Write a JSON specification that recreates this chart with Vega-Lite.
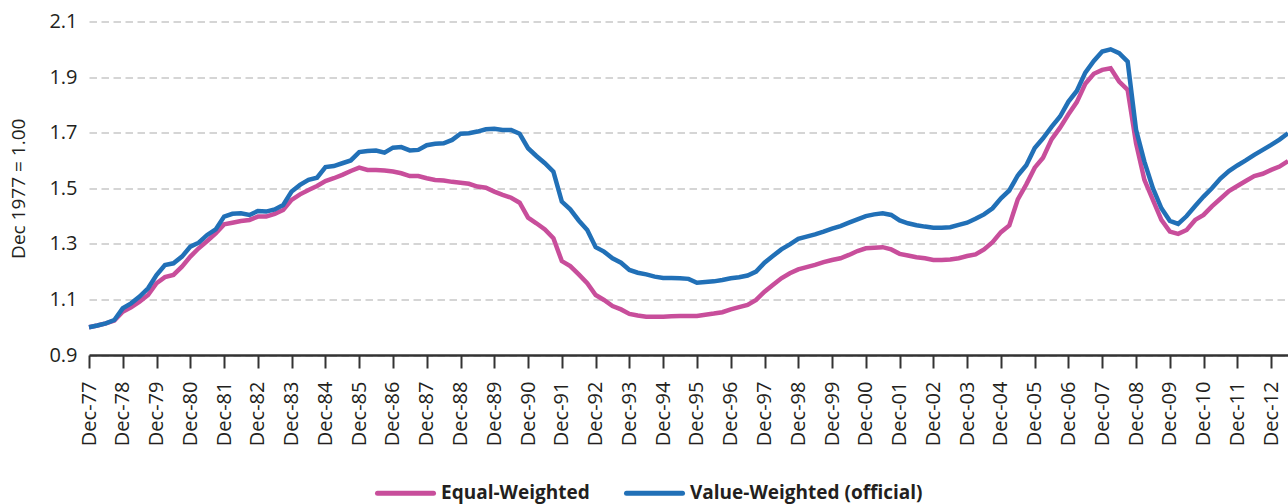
{
  "$schema": "https://vega.github.io/schema/vega-lite/v6.json",
  "width": 1199,
  "height": 333.5,
  "autosize": {"type": "none"},
  "padding": {"left": 89, "top": 21.5, "right": 0, "bottom": 149},
  "background": "white",
  "config": {"view": {"stroke": null}, "font": "Open Sans"},
  "data": {
    "format": {"parse": {"d": "date:'%Y-%m'"}},
    "values": [
      {"d": "1977-12", "EW": 1.000, "VW": 1.000},
      {"d": "1978-03", "EW": 1.006, "VW": 1.006},
      {"d": "1978-06", "EW": 1.014, "VW": 1.014},
      {"d": "1978-09", "EW": 1.024, "VW": 1.026},
      {"d": "1978-12", "EW": 1.056, "VW": 1.068},
      {"d": "1979-03", "EW": 1.072, "VW": 1.086},
      {"d": "1979-06", "EW": 1.092, "VW": 1.110},
      {"d": "1979-09", "EW": 1.116, "VW": 1.140},
      {"d": "1979-12", "EW": 1.158, "VW": 1.188},
      {"d": "1980-03", "EW": 1.180, "VW": 1.224},
      {"d": "1980-06", "EW": 1.188, "VW": 1.230},
      {"d": "1980-09", "EW": 1.218, "VW": 1.254},
      {"d": "1980-12", "EW": 1.254, "VW": 1.290},
      {"d": "1981-03", "EW": 1.284, "VW": 1.304},
      {"d": "1981-06", "EW": 1.310, "VW": 1.332},
      {"d": "1981-09", "EW": 1.338, "VW": 1.352},
      {"d": "1981-12", "EW": 1.370, "VW": 1.398},
      {"d": "1982-03", "EW": 1.376, "VW": 1.408},
      {"d": "1982-06", "EW": 1.382, "VW": 1.410},
      {"d": "1982-09", "EW": 1.386, "VW": 1.404},
      {"d": "1982-12", "EW": 1.398, "VW": 1.418},
      {"d": "1983-03", "EW": 1.398, "VW": 1.416},
      {"d": "1983-06", "EW": 1.408, "VW": 1.424},
      {"d": "1983-09", "EW": 1.422, "VW": 1.440},
      {"d": "1983-12", "EW": 1.458, "VW": 1.488},
      {"d": "1984-03", "EW": 1.478, "VW": 1.512},
      {"d": "1984-06", "EW": 1.494, "VW": 1.530},
      {"d": "1984-09", "EW": 1.508, "VW": 1.538},
      {"d": "1984-12", "EW": 1.526, "VW": 1.576},
      {"d": "1985-03", "EW": 1.536, "VW": 1.580},
      {"d": "1985-06", "EW": 1.548, "VW": 1.590},
      {"d": "1985-09", "EW": 1.562, "VW": 1.600},
      {"d": "1985-12", "EW": 1.574, "VW": 1.630},
      {"d": "1986-03", "EW": 1.566, "VW": 1.634},
      {"d": "1986-06", "EW": 1.566, "VW": 1.636},
      {"d": "1986-09", "EW": 1.564, "VW": 1.628},
      {"d": "1986-12", "EW": 1.560, "VW": 1.646},
      {"d": "1987-03", "EW": 1.554, "VW": 1.648},
      {"d": "1987-06", "EW": 1.544, "VW": 1.636},
      {"d": "1987-09", "EW": 1.544, "VW": 1.638},
      {"d": "1987-12", "EW": 1.536, "VW": 1.655},
      {"d": "1988-03", "EW": 1.530, "VW": 1.660},
      {"d": "1988-06", "EW": 1.528, "VW": 1.662},
      {"d": "1988-09", "EW": 1.523, "VW": 1.674},
      {"d": "1988-12", "EW": 1.520, "VW": 1.696},
      {"d": "1989-03", "EW": 1.516, "VW": 1.698},
      {"d": "1989-06", "EW": 1.506, "VW": 1.704},
      {"d": "1989-09", "EW": 1.502, "VW": 1.712},
      {"d": "1989-12", "EW": 1.488, "VW": 1.714},
      {"d": "1990-03", "EW": 1.476, "VW": 1.710},
      {"d": "1990-06", "EW": 1.466, "VW": 1.710},
      {"d": "1990-09", "EW": 1.448, "VW": 1.696},
      {"d": "1990-12", "EW": 1.394, "VW": 1.644},
      {"d": "1991-03", "EW": 1.374, "VW": 1.616},
      {"d": "1991-06", "EW": 1.352, "VW": 1.590},
      {"d": "1991-09", "EW": 1.320, "VW": 1.560},
      {"d": "1991-12", "EW": 1.238, "VW": 1.452},
      {"d": "1992-03", "EW": 1.220, "VW": 1.424},
      {"d": "1992-06", "EW": 1.190, "VW": 1.384},
      {"d": "1992-09", "EW": 1.158, "VW": 1.350},
      {"d": "1992-12", "EW": 1.116, "VW": 1.288},
      {"d": "1993-03", "EW": 1.098, "VW": 1.272},
      {"d": "1993-06", "EW": 1.076, "VW": 1.248},
      {"d": "1993-09", "EW": 1.064, "VW": 1.232},
      {"d": "1993-12", "EW": 1.048, "VW": 1.206},
      {"d": "1994-03", "EW": 1.042, "VW": 1.196},
      {"d": "1994-06", "EW": 1.038, "VW": 1.190},
      {"d": "1994-09", "EW": 1.038, "VW": 1.182},
      {"d": "1994-12", "EW": 1.038, "VW": 1.177},
      {"d": "1995-03", "EW": 1.039, "VW": 1.177},
      {"d": "1995-06", "EW": 1.040, "VW": 1.176},
      {"d": "1995-09", "EW": 1.040, "VW": 1.174},
      {"d": "1995-12", "EW": 1.040, "VW": 1.160},
      {"d": "1996-03", "EW": 1.045, "VW": 1.163},
      {"d": "1996-06", "EW": 1.049, "VW": 1.165},
      {"d": "1996-09", "EW": 1.054, "VW": 1.170},
      {"d": "1996-12", "EW": 1.064, "VW": 1.176},
      {"d": "1997-03", "EW": 1.072, "VW": 1.180},
      {"d": "1997-06", "EW": 1.080, "VW": 1.186},
      {"d": "1997-09", "EW": 1.098, "VW": 1.200},
      {"d": "1997-12", "EW": 1.128, "VW": 1.232},
      {"d": "1998-03", "EW": 1.152, "VW": 1.256},
      {"d": "1998-06", "EW": 1.176, "VW": 1.280},
      {"d": "1998-09", "EW": 1.194, "VW": 1.298},
      {"d": "1998-12", "EW": 1.208, "VW": 1.318},
      {"d": "1999-03", "EW": 1.216, "VW": 1.326},
      {"d": "1999-06", "EW": 1.224, "VW": 1.334},
      {"d": "1999-09", "EW": 1.234, "VW": 1.344},
      {"d": "1999-12", "EW": 1.242, "VW": 1.355},
      {"d": "2000-03", "EW": 1.248, "VW": 1.364},
      {"d": "2000-06", "EW": 1.260, "VW": 1.376},
      {"d": "2000-09", "EW": 1.274, "VW": 1.388},
      {"d": "2000-12", "EW": 1.284, "VW": 1.400},
      {"d": "2001-03", "EW": 1.286, "VW": 1.406},
      {"d": "2001-06", "EW": 1.288, "VW": 1.410},
      {"d": "2001-09", "EW": 1.280, "VW": 1.404},
      {"d": "2001-12", "EW": 1.264, "VW": 1.384},
      {"d": "2002-03", "EW": 1.258, "VW": 1.374},
      {"d": "2002-06", "EW": 1.252, "VW": 1.367},
      {"d": "2002-09", "EW": 1.248, "VW": 1.362},
      {"d": "2002-12", "EW": 1.242, "VW": 1.358},
      {"d": "2003-03", "EW": 1.242, "VW": 1.358},
      {"d": "2003-06", "EW": 1.244, "VW": 1.360},
      {"d": "2003-09", "EW": 1.248, "VW": 1.368},
      {"d": "2003-12", "EW": 1.256, "VW": 1.376},
      {"d": "2004-03", "EW": 1.262, "VW": 1.390},
      {"d": "2004-06", "EW": 1.280, "VW": 1.406},
      {"d": "2004-09", "EW": 1.306, "VW": 1.428},
      {"d": "2004-12", "EW": 1.342, "VW": 1.464},
      {"d": "2005-03", "EW": 1.366, "VW": 1.492},
      {"d": "2005-06", "EW": 1.460, "VW": 1.546},
      {"d": "2005-09", "EW": 1.514, "VW": 1.583},
      {"d": "2005-12", "EW": 1.574, "VW": 1.645},
      {"d": "2006-03", "EW": 1.610, "VW": 1.680},
      {"d": "2006-06", "EW": 1.676, "VW": 1.721},
      {"d": "2006-09", "EW": 1.718, "VW": 1.758},
      {"d": "2006-12", "EW": 1.766, "VW": 1.812},
      {"d": "2007-03", "EW": 1.810, "VW": 1.850},
      {"d": "2007-06", "EW": 1.876, "VW": 1.916},
      {"d": "2007-09", "EW": 1.912, "VW": 1.958},
      {"d": "2007-12", "EW": 1.926, "VW": 1.992},
      {"d": "2008-03", "EW": 1.932, "VW": 2.000},
      {"d": "2008-06", "EW": 1.884, "VW": 1.986},
      {"d": "2008-09", "EW": 1.854, "VW": 1.956},
      {"d": "2008-12", "EW": 1.662, "VW": 1.710},
      {"d": "2009-03", "EW": 1.530, "VW": 1.596},
      {"d": "2009-06", "EW": 1.458, "VW": 1.500},
      {"d": "2009-09", "EW": 1.386, "VW": 1.428},
      {"d": "2009-12", "EW": 1.344, "VW": 1.383},
      {"d": "2010-03", "EW": 1.336, "VW": 1.372},
      {"d": "2010-06", "EW": 1.350, "VW": 1.400},
      {"d": "2010-09", "EW": 1.386, "VW": 1.436},
      {"d": "2010-12", "EW": 1.404, "VW": 1.470},
      {"d": "2011-03", "EW": 1.435, "VW": 1.500},
      {"d": "2011-06", "EW": 1.462, "VW": 1.535},
      {"d": "2011-09", "EW": 1.490, "VW": 1.562},
      {"d": "2011-12", "EW": 1.508, "VW": 1.582},
      {"d": "2012-03", "EW": 1.526, "VW": 1.600},
      {"d": "2012-06", "EW": 1.544, "VW": 1.620},
      {"d": "2012-09", "EW": 1.552, "VW": 1.638},
      {"d": "2012-12", "EW": 1.566, "VW": 1.656},
      {"d": "2013-03", "EW": 1.578, "VW": 1.675},
      {"d": "2013-06", "EW": 1.598, "VW": 1.698}
    ]
  },
  "transform": [{"fold": ["EW", "VW"], "as": ["series", "value"]}],
  "mark": {"type": "line", "strokeWidth": 4.5, "clip": false},
  "encoding": {
    "x": {
      "field": "d",
      "type": "temporal",
      "scale": {"domain": [{"year": 1977, "month": 12}, {"year": 2013, "month": 6}]},
      "axis": {
        "title": null,
        "grid": false,
        "format": "%b-%y",
        "values": [
          {"year": 1977, "month": 12}, {"year": 1978, "month": 12}, {"year": 1979, "month": 12},
          {"year": 1980, "month": 12}, {"year": 1981, "month": 12}, {"year": 1982, "month": 12},
          {"year": 1983, "month": 12}, {"year": 1984, "month": 12}, {"year": 1985, "month": 12},
          {"year": 1986, "month": 12}, {"year": 1987, "month": 12}, {"year": 1988, "month": 12},
          {"year": 1989, "month": 12}, {"year": 1990, "month": 12}, {"year": 1991, "month": 12},
          {"year": 1992, "month": 12}, {"year": 1993, "month": 12}, {"year": 1994, "month": 12},
          {"year": 1995, "month": 12}, {"year": 1996, "month": 12}, {"year": 1997, "month": 12},
          {"year": 1998, "month": 12}, {"year": 1999, "month": 12}, {"year": 2000, "month": 12},
          {"year": 2001, "month": 12}, {"year": 2002, "month": 12}, {"year": 2003, "month": 12},
          {"year": 2004, "month": 12}, {"year": 2005, "month": 12}, {"year": 2006, "month": 12},
          {"year": 2007, "month": 12}, {"year": 2008, "month": 12}, {"year": 2009, "month": 12},
          {"year": 2010, "month": 12}, {"year": 2011, "month": 12}, {"year": 2012, "month": 12}
        ],
        "labelAngle": 270,
        "labelAlign": "right",
        "labelBaseline": "middle",
        "labelFontSize": 20,
        "labelColor": "#231f20",
        "labelPadding": 13,
        "labelOverlap": false,
        "labelFlush": false,
        "labelBound": false,
        "tickSize": 13,
        "tickWidth": 2,
        "tickColor": "#333333",
        "domainColor": "#333333",
        "domainWidth": 2.5,
        "zindex": 2
      }
    },
    "y": {
      "field": "value",
      "type": "quantitative",
      "scale": {"domain": [0.9, 2.1], "nice": false, "zero": false},
      "axis": {
        "values": [0.9, 1.1, 1.3, 1.5, 1.7, 1.9, 2.1],
        "format": ".1f",
        "ticks": false,
        "domain": false,
        "grid": true,
        "gridColor": "#c8c8c8",
        "gridWidth": 1.6,
        "gridDash": [7.5, 4.5],
        "labelFontSize": 20,
        "labelColor": "#231f20",
        "labelPadding": 12,
        "title": "Dec 1977 = 1.00",
        "titleFontSize": 19,
        "titleFontWeight": "normal",
        "titleColor": "#231f20",
        "titleX": -70.5,
        "titleY": 166.75,
        "titleAngle": 270,
        "titleAlign": "center",
        "titleBaseline": "middle"
      }
    },
    "color": {
      "field": "series",
      "type": "nominal",
      "scale": {"domain": ["EW", "VW"], "range": ["#c84e9b", "#2170b7"]},
      "legend": {
        "orient": "none",
        "legendX": 286,
        "legendY": 441,
        "direction": "horizontal",
        "title": null,
        "symbolType": "stroke",
        "symbolSize": 3136,
        "symbolStrokeWidth": 5,
        "labelFontSize": 19,
        "labelFontWeight": "bold",
        "labelColor": "#231f20",
        "labelOffset": 5,
        "labelLimit": 0,
        "columnPadding": 26,
        "labelExpr": "datum.value == 'EW' ? 'Equal-Weighted' : 'Value-Weighted (official)'",
        "encode": {"symbols": {"update": {"strokeCap": {"value": "round"}}}}
      }
    }
  }
}
